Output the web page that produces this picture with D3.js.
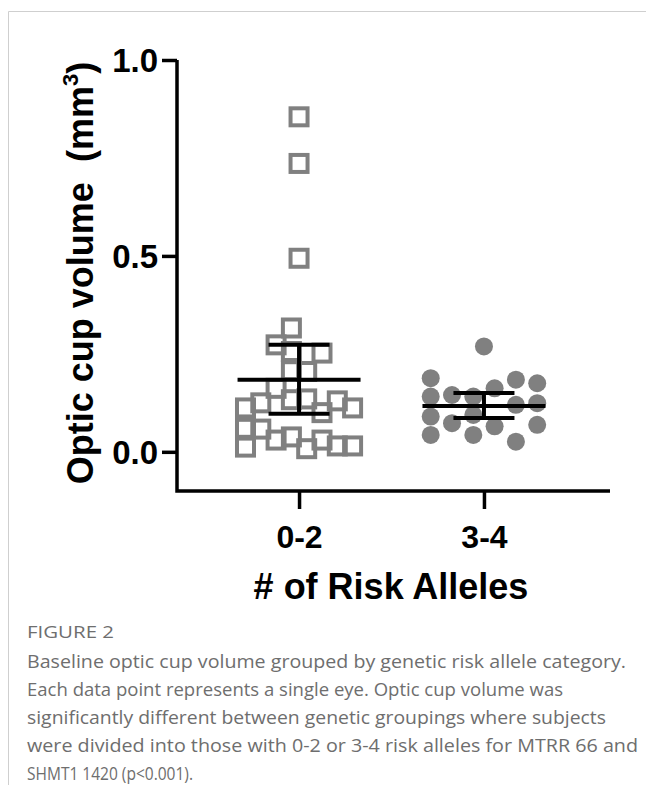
<!DOCTYPE html>
<html>
<head>
<meta charset="utf-8">
<script src="https://cdn.jsdelivr.net/npm/d3@7"></script>
<style>
  html, body { margin: 0; padding: 0; background: #fff; }
  svg { display: block; }
</style>
</head>
<body>
<svg id="chart" width="646" height="785"></svg>
<script>
// ---------- data ----------
const categories = ["0-2", "3-4"];
// group 0-2 (open squares): value and column slot in the scatter layout
const values02 = [0.855, 0.736, 0.494, 0.316, 0.256, 0.207, 0.133, 0.038, 0.273, 0.162, 0.030, 0.125, 0.058, 0.112, 0.060, 0.012, 0.205, 0.135, 0.008, 0.252, 0.100, 0.030, 0.130, 0.015, 0.112, 0.015];
const slots02  = [0, 0, 0, -0.5, -0.5, -0.5, -0.5, -0.5, -1.5, -1.5, -1.5, -2.5, -2.5, -3.5, -3.5, -3.5, 0.5, 0.5, 0.5, 1.5, 1.5, 1.5, 2.5, 2.5, 3.5, 3.5];
// group 3-4 (filled circles)
const values34 = [0.269, 0.188, 0.141, 0.090, 0.043, 0.145, 0.073, 0.141, 0.094, 0.043, 0.162, 0.065, 0.184, 0.120, 0.026, 0.175, 0.124, 0.069];
const slots34  = [0, -2.5, -2.5, -2.5, -2.5, -1.5, -1.5, -0.5, -0.5, -0.5, 0.5, 0.5, 1.5, 1.5, 1.5, 2.5, 2.5, 2.5];
// summary (mean with error bars)
const means   = [0.184, 0.117];
const errLow  = [0.097, 0.086];
const errHigh = [0.273, 0.150];
const yTicks = [0.0, 0.5, 1.0];
const yLabel = "Optic cup volume\u00a0\u00a0(mm";
const xLabel = "# of Risk Alleles";
const figLabel = "FIGURE 2";
const captionLines = [
  "Baseline optic cup volume grouped by genetic risk allele category.",
  "Each data point represents a single eye. Optic cup volume was",
  "significantly different between genetic groupings where subjects",
  "were divided into those with 0-2 or 3-4 risk alleles for MTRR 66 and",
  "SHMT1 1420 (p<0.001)."
];

// ---------- drawing ----------
const svg = d3.select("#chart");
const font = "'Liberation Sans', Arial, sans-serif";

// frame
svg.append("line").attr("x1", 8.5).attr("x2", 646).attr("y1", 11.5).attr("y2", 11.5)
  .attr("stroke", "#cfcfcf").attr("stroke-width", 1);
svg.append("line").attr("x1", 8.5).attr("x2", 8.5).attr("y1", 11.5).attr("y2", 785)
  .attr("stroke", "#cfcfcf").attr("stroke-width", 1);

const x = d3.scalePoint().domain(categories).range([177, 606]).padding(0.66);
const y = d3.scaleLinear().domain([-0.1, 1.0]).range([491, 60]);

const slotScale = [d3.scaleLinear().domain([0, 1]).range([0, 15.3]),
                   d3.scaleLinear().domain([0, 1]).range([0, 21.3])];

const g = svg.append("g");

// y axis
const yAxis = g.append("g").attr("transform", "translate(177,0)")
  .call(d3.axisLeft(y).tickValues(yTicks).tickFormat(d3.format(".1f")).tickSize(15).tickSizeOuter(0));
yAxis.select(".domain").remove();
yAxis.selectAll(".tick line").attr("stroke", "#000").attr("stroke-width", 3.5);
yAxis.selectAll(".tick text").attr("font-family", font).attr("font-weight", "bold")
  .attr("font-size", 33).attr("fill", "#000").attr("x", -19).attr("dy", "0.36em");

// x axis
const xAxis = g.append("g").attr("transform", "translate(0,491)")
  .call(d3.axisBottom(x).tickSize(18).tickSizeOuter(0));
xAxis.select(".domain").remove();
xAxis.selectAll(".tick line").attr("stroke", "#000").attr("stroke-width", 3.5);
xAxis.selectAll(".tick text").attr("font-family", font).attr("font-weight", "bold")
  .attr("font-size", 32).attr("fill", "#000").attr("y", 57).attr("dy", 0);

// axis lines (Prism style, joined corner)
g.append("path")
  .attr("d", `M177,${y(1.0)}V491H610`)
  .attr("fill", "none").attr("stroke", "#000").attr("stroke-width", 3.5)
  .attr("stroke-linejoin", "miter").attr("stroke-linecap", "butt");

// squares (group 0-2)
const sq = 17;
g.append("g").selectAll("rect").data(values02).join("rect")
  .attr("x", (d, i) => x(categories[0]) + slotScale[0](slots02[i]) - sq / 2)
  .attr("y", d => y(d) - sq / 2)
  .attr("width", sq).attr("height", sq)
  .attr("fill", "none").attr("stroke", "#808080").attr("stroke-width", 4);

// circles (group 3-4)
g.append("g").selectAll("circle").data(values34).join("circle")
  .attr("cx", (d, i) => x(categories[1]) + slotScale[1](slots34[i]))
  .attr("cy", d => y(d))
  .attr("r", 9)
  .attr("fill", "#808080");

// mean and error bars
const eb = g.append("g").attr("stroke", "#000").attr("stroke-width", 4);
categories.forEach((c, i) => {
  const cx = x(c);
  eb.append("line").attr("x1", cx - 61.5).attr("x2", cx + 61.5).attr("y1", y(means[i])).attr("y2", y(means[i]));
  eb.append("line").attr("x1", cx).attr("x2", cx).attr("y1", y(errLow[i])).attr("y2", y(errHigh[i]));
  eb.append("line").attr("x1", cx - 30.5).attr("x2", cx + 30.5).attr("y1", y(errLow[i])).attr("y2", y(errLow[i]));
  eb.append("line").attr("x1", cx - 30.5).attr("x2", cx + 30.5).attr("y1", y(errHigh[i])).attr("y2", y(errHigh[i]));
});

// y axis title
const yt = g.append("text")
  .attr("transform", "translate(93,273) rotate(-90)")
  .attr("text-anchor", "middle")
  .attr("font-family", font).attr("font-weight", "bold").attr("font-size", 36).attr("fill", "#000");
yt.append("tspan").text(yLabel);
yt.append("tspan").attr("font-size", 22).attr("dy", -15).text("3");
yt.append("tspan").attr("dy", 15).text(")");

// x axis title
g.append("text").attr("x", 391).attr("y", 599).attr("text-anchor", "middle")
  .attr("font-family", font).attr("font-weight", "bold").attr("font-size", 36).attr("fill", "#000")
  .text(xLabel);

// caption
const capFont = "'Open Sans', 'Noto Sans', sans-serif";
svg.append("text").attr("x", 27).attr("y", 638)
  .attr("font-family", capFont).attr("font-size", 15.5).attr("fill", "#6e6e6e")
  .attr("textLength", 87).attr("lengthAdjust", "spacingAndGlyphs")
  .text(figLabel);
const capWidths = [599, 536, 579, 611, 166];
svg.append("g").selectAll("text").data(captionLines).join("text")
  .attr("x", 27).attr("y", (d, i) => 668 + i * 28)
  .attr("font-family", capFont).attr("font-size", 18.5).attr("fill", "#6e6e6e")
  .attr("textLength", (d, i) => capWidths[i]).attr("lengthAdjust", "spacingAndGlyphs")
  .text(d => d);
</script>
</body>
</html>
